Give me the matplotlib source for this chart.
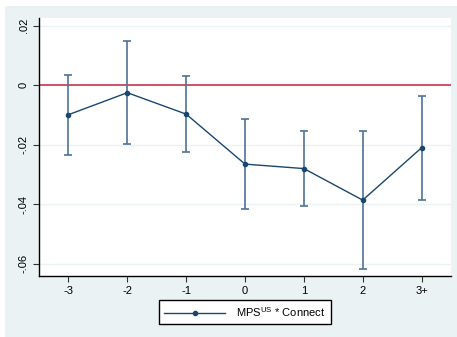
import matplotlib.pyplot as plt
from matplotlib.patches import Rectangle

plt.rcParams['font.family'] = ['Liberation Sans', 'DejaVu Sans']

# event-time categories and estimates
periods = ['-3', '-2', '-1', '0', '1', '2', '3+']
coef = [-0.0099, -0.0025, -0.0097, -0.0265, -0.0280, -0.0386, -0.0210]
ci_low = [-0.0233, -0.0197, -0.0224, -0.0415, -0.0405, -0.0617, -0.0385]
ci_high = [0.0035, 0.0149, 0.0032, -0.0113, -0.0155, -0.0155, -0.0036]

navy = '#1a476f'
bg = '#eaf2f3'

fig = plt.figure(figsize=(4.57, 3.37), dpi=100)
fig.patch.set_facecolor('white')
fig.add_artist(Rectangle((5 / 457, 0), 1, 1 - 6 / 337, transform=fig.transFigure,
                         facecolor=bg, edgecolor='none', zorder=-10))

ax = fig.add_axes([39 / 457, 1 - 276 / 337, 412 / 457, 258 / 337])
ax.set_facecolor('white')

x = list(range(len(periods)))
ax.axhline(0, color='#c8374f', lw=1.2, zorder=2)
err = [[c - l for c, l in zip(coef, ci_low)], [h - c for c, h in zip(coef, ci_high)]]
ax.errorbar(x, coef, yerr=err, fmt='none', ecolor='#4f7396', elinewidth=1.2,
            capsize=3, capthick=1.2, zorder=3)
ax.plot(x, coef, color=navy, lw=1, marker='o', ms=3, zorder=4,
        label=r'MPS$^{\mathregular{US}}$ * Connect')

ax.set_xlim(-0.5, len(periods) - 0.5)
ax.set_ylim(-0.0641, 0.0226)
ax.set_xticks(x)
ax.set_xticklabels(periods)
yt = [-0.06, -0.04, -0.02, 0, 0.02]
ax.set_yticks(yt)
ax.set_yticklabels(['-.06', '-.04', '-.02', '0', '.02'], rotation=90, va='center')
ax.yaxis.grid(True, color=bg, lw=1)
ax.set_axisbelow(True)
for s in ['top', 'right']:
    ax.spines[s].set_visible(False)
for s in ['left', 'bottom']:
    ax.spines[s].set_color('black')
    ax.spines[s].set_linewidth(1)
ax.tick_params(labelsize=8, length=4, width=0.8, color='#333333')

leg = fig.legend(loc='center', bbox_to_anchor=(245 / 457, 1 - 312 / 337), fontsize=8,
                 frameon=True, fancybox=False, edgecolor='black', framealpha=1,
                 handlelength=5.5, handletextpad=1.0, borderpad=0.5)
leg.get_frame().set_linewidth(1)

fig.savefig('out.png', dpi=100)
